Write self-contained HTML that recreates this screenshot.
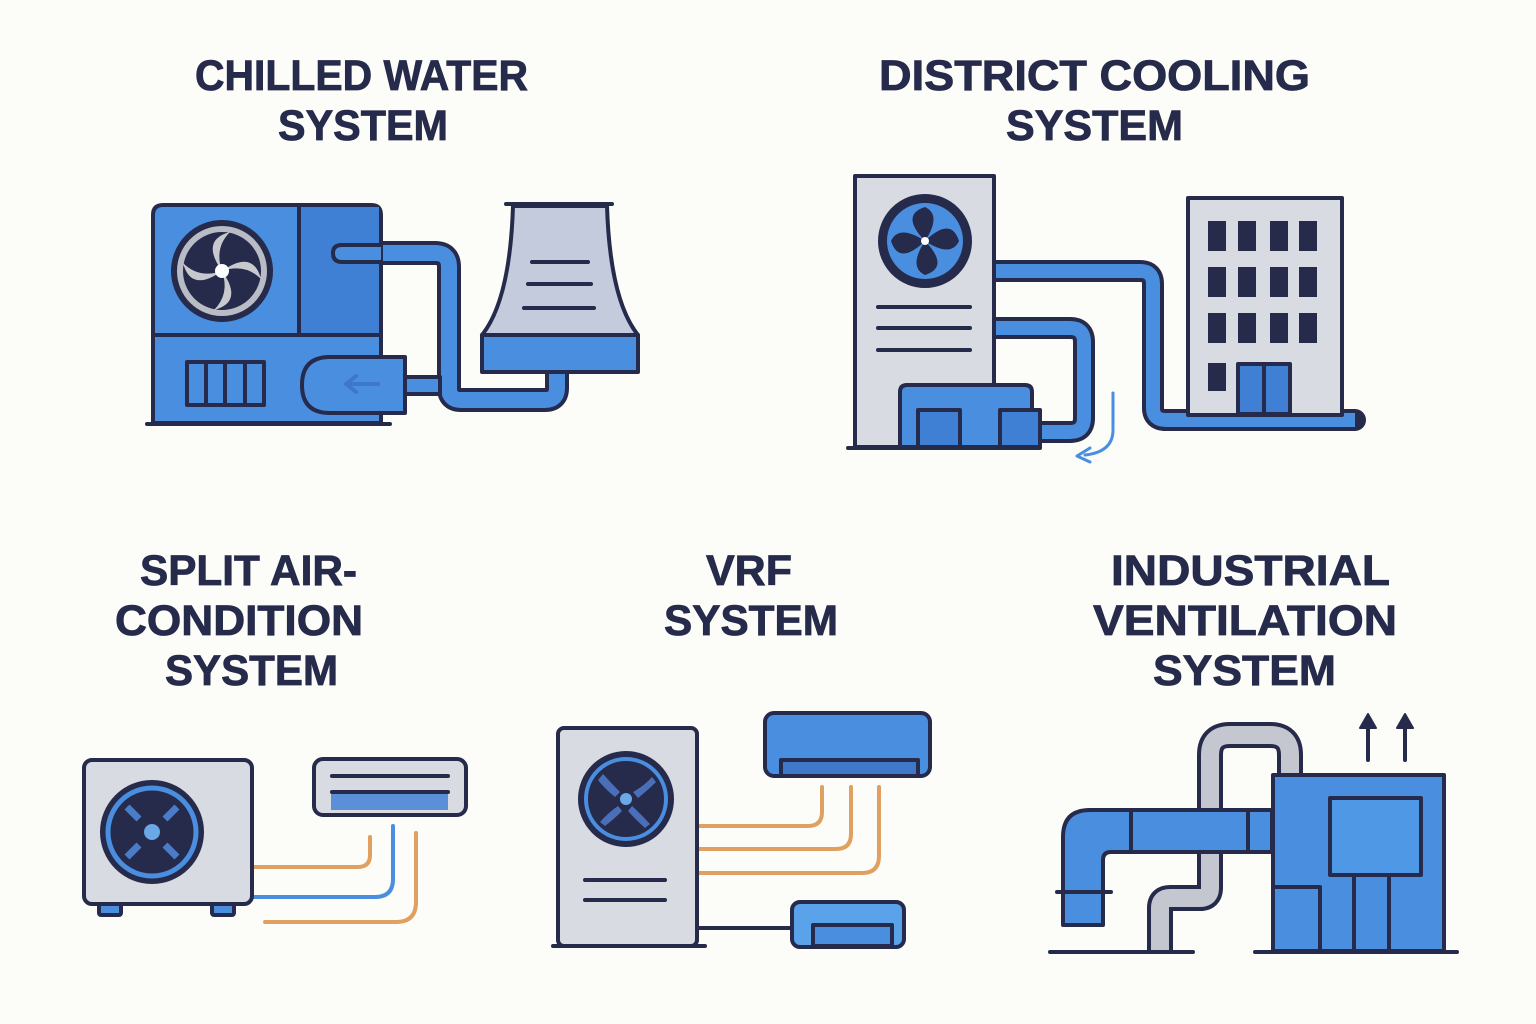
<!DOCTYPE html>
<html><head><meta charset="utf-8"><style>
html,body{margin:0;padding:0;background:#fcfcf8;}
svg{display:block}
text{font-family:"Liberation Sans",sans-serif;font-weight:bold;fill:#262a4b;font-size:43px;stroke:#262a4b;stroke-width:0.8px;}
</style></head><body>
<svg width="1536" height="1024" viewBox="0 0 1536 1024" xmlns="http://www.w3.org/2000/svg">
<rect width="1536" height="1024" fill="#fcfcf8"/>
<!-- Titles -->
<text x="195" y="90" textLength="333" lengthAdjust="spacingAndGlyphs">CHILLED WATER</text>
<text x="278" y="140" textLength="170" lengthAdjust="spacingAndGlyphs">SYSTEM</text>
<text x="879" y="90" textLength="431" lengthAdjust="spacingAndGlyphs">DISTRICT COOLING</text>
<text x="1006" y="140" textLength="177" lengthAdjust="spacingAndGlyphs">SYSTEM</text>
<text x="140" y="585" textLength="217" lengthAdjust="spacingAndGlyphs">SPLIT AIR-</text>
<text x="115" y="635" textLength="248" lengthAdjust="spacingAndGlyphs">CONDITION</text>
<text x="165" y="685" textLength="173" lengthAdjust="spacingAndGlyphs">SYSTEM</text>
<text x="706" y="585" textLength="86" lengthAdjust="spacingAndGlyphs">VRF</text>
<text x="664" y="635" textLength="174" lengthAdjust="spacingAndGlyphs">SYSTEM</text>
<text x="1111" y="585" textLength="279" lengthAdjust="spacingAndGlyphs">INDUSTRIAL</text>
<text x="1093" y="635" textLength="304" lengthAdjust="spacingAndGlyphs">VENTILATION</text>
<text x="1153" y="685" textLength="183" lengthAdjust="spacingAndGlyphs">SYSTEM</text>

<g stroke="#262a4b" stroke-width="4" stroke-linejoin="round" stroke-linecap="round">
<!-- ===== Chilled water ===== -->
<path d="M342 253 H435 Q449 253 449 267 V388 Q449 400 461 400 H545 Q557 400 557 388 V372" fill="none" stroke-width="24"/>
<path d="M342 253 H435 Q449 253 449 267 V388 Q449 400 461 400 H545 Q557 400 557 388 V372" fill="none" stroke="#4a8ee0" stroke-width="16" stroke-linecap="butt"/>
<rect x="400" y="377" width="40" height="17" fill="#4a8ee0"/>
<path d="M153 423 V215 Q153 205 163 205 H371 Q381 205 381 215 V423 Z" fill="#4a8ee0"/>
<rect x="299" y="207" width="80" height="128" fill="#3f80d4" stroke="none"/>
<line x1="299" y1="205" x2="299" y2="335"/>
<line x1="153" y1="335" x2="381" y2="335"/>
<line x1="147" y1="424" x2="390" y2="424"/>
<path d="M381 245 H342 Q333 245 333 253 Q333 262 342 262 H381" fill="#4a8ee0"/>
<circle cx="222" cy="271" r="49" fill="#262a4b"/>
<circle cx="222" cy="271" r="42" fill="none" stroke="#b9bcc4" stroke-width="6"/>
<g fill="#c7c9cf" stroke="none">
<path d="M222 271 Q200 240 230 232 Q214 248 222 271Z"/>
<path d="M222 271 Q253 249 261 279 Q245 263 222 271Z"/>
<path d="M222 271 Q244 302 214 310 Q230 294 222 271Z"/>
<path d="M222 271 Q191 293 183 263 Q199 279 222 271Z"/>
</g>
<circle cx="222" cy="271" r="7" fill="#fff" stroke="none"/>
<rect x="187" y="362" width="77" height="43" fill="#4a8ee0"/>
<line x1="206" y1="362" x2="206" y2="405"/><line x1="225" y1="362" x2="225" y2="405"/><line x1="245" y1="362" x2="245" y2="405"/>
<path d="M405 357 H330 Q302 357 302 385 Q302 413 330 413 H405 Z" fill="#4a8ee0"/>
<path d="M378 384 H346 M356 376 L346 384 L356 392" fill="none" stroke="#3f78c8" stroke-width="4"/>
<path d="M513 206 Q510 300 482 335 H638 Q610 300 607 206 Z" fill="#c4cbdd"/>
<line x1="506" y1="204" x2="612" y2="204"/>
<rect x="482" y="335" width="156" height="37" fill="#4a8ee0"/>
<line x1="532" y1="262" x2="588" y2="262"/><line x1="528" y1="284" x2="591" y2="284"/><line x1="524" y1="308" x2="594" y2="308"/>

<!-- ===== District cooling ===== -->
<path d="M995 271 H1140 Q1153 271 1153 284 V408 Q1153 420 1166 420 H1355" fill="none" stroke-width="22"/>
<path d="M995 271 H1140 Q1153 271 1153 284 V408 Q1153 420 1166 420 H1355" fill="none" stroke="#4a8ee0" stroke-width="14" stroke-linecap="butt"/>
<path d="M995 328 H1070 Q1084 328 1084 342 V418 Q1084 432 1070 432 H1040" fill="none" stroke-width="22"/>
<path d="M995 328 H1070 Q1084 328 1084 342 V418 Q1084 432 1070 432 H1040" fill="none" stroke="#4a8ee0" stroke-width="14" stroke-linecap="butt"/>
<rect x="855" y="176" width="139" height="271" fill="#d8dbe1"/>
<circle cx="925" cy="241" r="45" fill="#262a4b"/>
<circle cx="925" cy="241" r="38" fill="#4a8ee0" stroke="none"/>
<g fill="#262a4b" stroke="none">
<path d="M925 241 Q900 215 925 207 Q942 215 925 241Z"/>
<path d="M925 241 Q951 216 959 241 Q951 258 925 241Z"/>
<path d="M925 241 Q950 267 925 275 Q908 267 925 241Z"/>
<path d="M925 241 Q899 266 891 241 Q899 224 925 241Z"/>
</g>
<circle cx="925" cy="241" r="4" fill="#fff" stroke="none"/>
<line x1="878" y1="307" x2="970" y2="307"/><line x1="878" y1="328" x2="970" y2="328"/><line x1="878" y1="350" x2="970" y2="350"/>
<path d="M900 447 V392 Q900 385 907 385 H1025 Q1032 385 1032 392 V447 Z" fill="#4a8ee0"/>
<rect x="918" y="410" width="42" height="37" fill="#3f80d4"/>
<rect x="1000" y="410" width="40" height="37" fill="#3f80d4"/>
<line x1="848" y1="448" x2="1040" y2="448"/>
<path d="M1113 393 V430 Q1113 452 1085 455" fill="none" stroke="#4a8ee0" stroke-width="3"/>
<path d="M1090 448 L1077 456 L1090 462" fill="none" stroke="#4a8ee0" stroke-width="3"/>
<rect x="1188" y="198" width="154" height="217" fill="#d8dbe1"/>
<g fill="#262a4b" stroke="none">
<rect x="1208" y="221" width="18" height="30"/><rect x="1238" y="221" width="18" height="30"/><rect x="1270" y="221" width="18" height="30"/><rect x="1299" y="221" width="18" height="30"/>
<rect x="1208" y="267" width="18" height="30"/><rect x="1238" y="267" width="18" height="30"/><rect x="1270" y="267" width="18" height="30"/><rect x="1299" y="267" width="18" height="30"/>
<rect x="1208" y="313" width="18" height="30"/><rect x="1238" y="313" width="18" height="30"/><rect x="1270" y="313" width="18" height="30"/><rect x="1299" y="313" width="18" height="30"/>
<rect x="1208" y="363" width="18" height="28"/>
</g>
<rect x="1238" y="364" width="52" height="50" fill="#3f80d4"/>
<line x1="1264" y1="364" x2="1264" y2="414"/>

<!-- ===== Split ===== -->
<g fill="none" stroke-width="4">
<path d="M252 867 H358 Q370 867 370 855 V837" stroke="#e0a060"/>
<path d="M252 897 H375 Q393 897 393 879 V826" stroke="#4a8ee0"/>
<path d="M265 922 H396 Q416 922 416 902 V833" stroke="#e0a060"/>
</g>
<rect x="99" y="900" width="22" height="15" rx="2" fill="#4a8ee0"/>
<rect x="212" y="900" width="22" height="15" rx="2" fill="#4a8ee0"/>
<rect x="84" y="760" width="168" height="144" rx="8" fill="#d8dbe1"/>
<circle cx="152" cy="832" r="50" fill="#262a4b"/>
<circle cx="152" cy="832" r="44" fill="none" stroke="#4a8ee0" stroke-width="5"/>
<g stroke="#4a7cc8" stroke-width="7" stroke-linecap="butt">
<line x1="127" y1="807" x2="139" y2="819"/><line x1="177" y1="807" x2="165" y2="819"/>
<line x1="127" y1="857" x2="139" y2="845"/><line x1="177" y1="857" x2="165" y2="845"/>
</g>
<circle cx="152" cy="832" r="8" fill="#6aa8e8" stroke="none"/>
<rect x="314" y="759" width="152" height="56" rx="9" fill="#d8dbe1"/>
<rect x="331" y="791" width="117" height="19" fill="#5b8fd8" stroke="none"/>
<line x1="332" y1="776" x2="448" y2="776"/><line x1="332" y1="792" x2="448" y2="792"/>

<!-- ===== VRF ===== -->
<g fill="none" stroke="#e0a060" stroke-width="4">
<path d="M697 826 H808 Q822 826 822 812 V787"/>
<path d="M697 849 H836 Q851 849 851 834 V787"/>
<path d="M697 873 H862 Q879 873 879 856 V787"/>
</g>
<line x1="697" y1="928" x2="792" y2="928"/>
<rect x="558" y="728" width="139" height="218" rx="6" fill="#d8dbe1"/>
<line x1="553" y1="946" x2="705" y2="946"/>
<circle cx="626" cy="799" r="46" fill="#262a4b"/>
<circle cx="626" cy="799" r="40" fill="none" stroke="#4a8ee0" stroke-width="4"/>
<g fill="#4a6fb8" stroke="none">
<path d="M603 774 Q612 784 620 792 L615 797 Q604 788 598 780Z"/>
<path d="M652 777 Q644 786 633 792 L638 798 Q648 790 656 782Z"/>
<path d="M600 822 Q609 812 618 806 L622 811 Q613 820 605 826Z"/>
<path d="M650 824 Q641 814 632 806 L628 811 Q636 820 645 828Z"/>
</g>
<circle cx="626" cy="799" r="6" fill="#6aa8e8" stroke="none"/>
<line x1="585" y1="880" x2="665" y2="880"/><line x1="585" y1="900" x2="665" y2="900"/>
<rect x="765" y="713" width="165" height="63" rx="9" fill="#4a8ee0"/>
<rect x="781" y="760" width="137" height="16" fill="#3f78c8"/>
<rect x="792" y="902" width="112" height="45" rx="8" fill="#5aa2ea"/>
<rect x="813" y="925" width="79" height="21" fill="#4a8ee0"/>

<!-- ===== Industrial ===== -->
<g fill="none" stroke-linecap="butt">
<path d="M1160 952 V908 Q1160 898 1170 898 H1200 Q1210 898 1210 888 V852" stroke-width="26"/>
<path d="M1160 952 V908 Q1160 898 1170 898 H1200 Q1210 898 1210 888 V852" stroke="#c4c7cf" stroke-width="18"/>
<path d="M1210 812 V755 Q1210 735 1230 735 H1270 Q1290 735 1290 755 V776" stroke-width="26"/>
<path d="M1210 812 V755 Q1210 735 1230 735 H1270 Q1290 735 1290 755 V776" stroke="#c4c7cf" stroke-width="18"/>
</g>
<path d="M1272 810 H1090 Q1063 810 1063 837 V925 H1103 V860 Q1103 852 1111 852 H1272 Z" fill="#4a8ee0"/>
<line x1="1131" y1="810" x2="1131" y2="852"/><line x1="1248" y1="810" x2="1248" y2="852"/>
<line x1="1057" y1="892" x2="1111" y2="892"/>
<rect x="1273" y="775" width="171" height="176" fill="#4a8ee0"/>
<rect x="1330" y="798" width="91" height="77" fill="#4f98e6"/>
<path d="M1275 887 H1320 V950" fill="none"/>
<line x1="1354" y1="875" x2="1354" y2="950"/><line x1="1389" y1="875" x2="1389" y2="950"/>
<line x1="1050" y1="952" x2="1193" y2="952"/><line x1="1255" y1="952" x2="1457" y2="952"/>
<line x1="1368" y1="760" x2="1368" y2="726"/><line x1="1405" y1="760" x2="1405" y2="726"/>
<path d="M1360 728 L1368 714 L1376 728Z" fill="#262a4b" stroke-width="2"/>
<path d="M1397 728 L1405 714 L1413 728Z" fill="#262a4b" stroke-width="2"/>
</g>
</svg>
</body></html>
